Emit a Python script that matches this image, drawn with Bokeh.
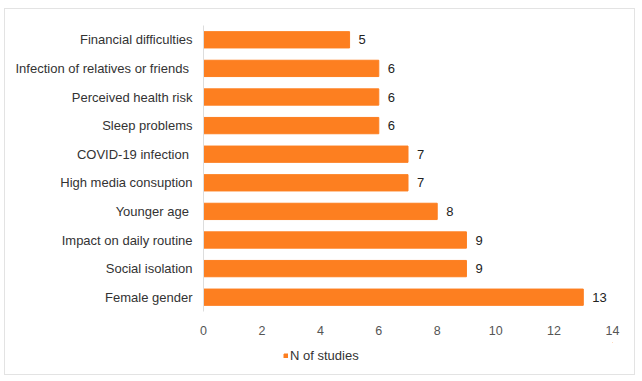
from bokeh.plotting import figure
from bokeh.layouts import column
from bokeh.models import (ColumnDataSource, LabelSet, Legend, LegendItem,
                          FixedTicker, Range1d)
from bokeh.core.properties import value
from bokeh.embed import file_html
from bokeh.resources import INLINE

# Risk factors (bottom to top) and number of studies reporting each
factors = [
    "Female gender",
    "Social isolation",
    "Impact on daily routine",
    "Younger age\u00a0",
    "High media consuption",
    "COVID-19 infection\u00a0",
    "Sleep problems",
    "Perceived health risk",
    "Infection of relatives or friends\u00a0",
    "Financial difficulties",
]
n_studies = [13, 9, 9, 8, 7, 7, 6, 6, 6, 5]
x_ticks = [0, 2, 4, 6, 8, 10, 12, 14]
series_name = "N of studies"

BAR = "#FD7F20"
FONT = "Liberation Sans"

source = ColumnDataSource(data=dict(
    factor=factors,
    n=n_studies,
    label=[str(v) for v in n_studies],
))

p = figure(
    width=629, height=333,
    y_range=factors, x_range=(0, 14),
    output_backend="svg", toolbar_location=None,
    min_border_left=198, min_border_right=22,
    min_border_top=16, min_border_bottom=31,
)
p.border_fill_color = None
p.background_fill_color = None
p.y_range.range_padding = 0
p.y_range.factor_padding = 0

bars = p.hbar(y="factor", right="n", left=0, height=0.57, source=source,
              fill_color=BAR, line_color=BAR)

labels = LabelSet(x="n", y="factor", text="label", source=source,
                  x_offset=9, text_baseline="middle", text_font=value(FONT),
                  text_font_size="13px", text_color="#222222")
p.add_layout(labels)

# axes styling
p.xaxis.ticker = FixedTicker(ticks=x_ticks)
p.xaxis.axis_line_color = None
p.xaxis.major_tick_line_color = None
p.xaxis.minor_tick_line_color = None
p.xaxis.major_label_text_font = FONT
p.xaxis.major_label_text_font_size = "12.5px"
p.xaxis.major_label_text_color = "#555555"
p.xaxis.major_label_standoff = 8

p.yaxis.axis_line_color = "#dddddd"
p.yaxis.major_tick_line_color = None
p.yaxis.minor_tick_line_color = None
p.yaxis.major_label_text_font = FONT
p.yaxis.major_label_text_font_size = "13px"
p.yaxis.major_label_text_color = "#333333"
p.yaxis.major_label_standoff = 5

p.xgrid.grid_line_color = None
p.ygrid.grid_line_color = None
p.outline_line_color = None

# legend strip underneath the chart; its swatch bar lies outside the view
leg = figure(
    width=629, height=32, x_range=Range1d(0, 1), y_range=Range1d(0, 1),
    output_backend="svg", toolbar_location=None,
    min_border_left=0, min_border_right=0, min_border_top=0, min_border_bottom=0,
)
leg.axis.visible = False
leg.grid.visible = False
leg.outline_line_color = None
leg.border_fill_color = None
leg.background_fill_color = None
swatch = leg.hbar(y=[5], right=[5], left=4, height=0.5,
                  fill_color=BAR, line_color=BAR)

legend = Legend(items=[LegendItem(label=series_name, renderers=[swatch])],
                location=(80, 11), orientation="horizontal",
                glyph_width=5, glyph_height=5, label_standoff=2,
                label_text_font=FONT, label_text_font_size="13px",
                label_text_color="#333333", border_line_color=None,
                background_fill_alpha=0, padding=0, margin=0)
leg.add_layout(legend)

# thin light frame around the whole chart
layout = column(p, leg, spacing=0)
layout.margin = (9, 8, 7, 5)
layout.styles = {"outline": "1.5px solid #e3e3e3", "background": "white"}

open("out.html", "w").write(file_html(layout, INLINE))
